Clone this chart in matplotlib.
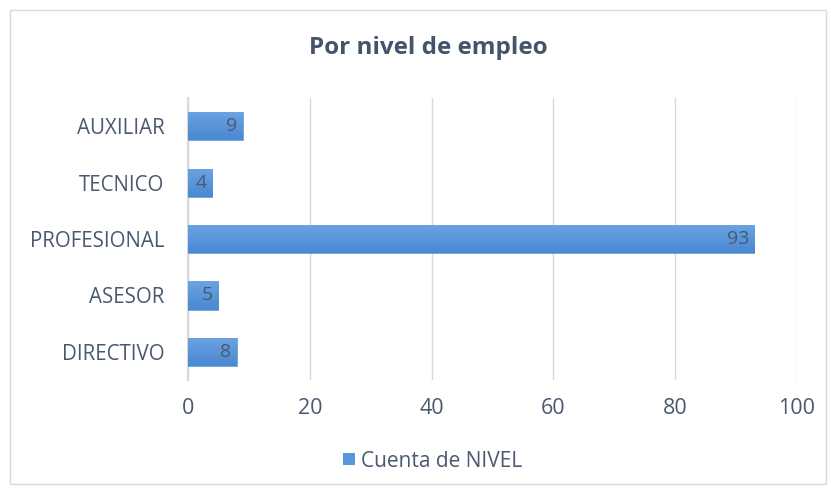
#!/usr/bin/env python3

import matplotlib.pyplot as plt
from matplotlib.colors import LinearSegmentedColormap
from matplotlib.patches import Rectangle, Patch
import numpy as np

# Datos
categorias = ["DIRECTIVO", "ASESOR", "PROFESIONAL", "TECNICO", "AUXILIAR"]
valores = [8, 5, 93, 4, 9]
ticks_x = [0, 20, 40, 60, 80, 100]

plt.rcParams["font.family"] = ["Open Sans", "DejaVu Sans"]

fig = plt.figure(figsize=(8.31, 4.92), dpi=100)
ax = fig.add_axes([0.2262, 0.2276, 0.7329, 0.5732])

# Borde exterior del gráfico
fig.patches.append(Rectangle((10 / 831, 8 / 492), 816 / 831, 474 / 492,
                             transform=fig.transFigure, fill=False,
                             edgecolor="#D9D9D9", linewidth=1))

texto = "#4A5870"
y = np.arange(len(categorias))
color_barra = "#5896DA"
barras = ax.barh(y, valores, height=0.5, color=color_barra, edgecolor="#5B9BD5",
                 linewidth=0.5, zorder=3)

# Degradado vertical en cada barra (estilo Excel)
degradado = LinearSegmentedColormap.from_list("g", ["#4A88D2", "#6CA3E2"])
grad = np.linspace(0, 1, 64).reshape(-1, 1)
for b in barras:
    x0, y0 = b.get_x(), b.get_y()
    im = ax.imshow(grad, cmap=degradado, aspect="auto", origin="lower",
                   extent=(x0, x0 + b.get_width(), y0, y0 + b.get_height()), zorder=3.5)
    im.set_clip_path(b)

for yi, v in zip(y, valores):
    ax.text(v - 0.9, yi, str(v), ha="right", va="center", fontsize=14, color=texto, zorder=4)

ax.set_xlim(0, 100)
ax.set_ylim(-0.5, len(categorias) - 0.5)
ax.set_xticks(ticks_x)
ax.set_yticks(y)
ax.set_yticklabels(categorias)
ax.tick_params(axis="both", length=0, labelcolor=texto)
ax.tick_params(axis="x", pad=13, labelsize=15.5)
ax.tick_params(axis="y", pad=17, labelsize=14.8)

ax.grid(axis="x", color="#D9D9D9", linewidth=1, zorder=0)
for s in ["top", "right", "bottom"]:
    ax.spines[s].set_visible(False)
ax.spines["left"].set_color("#D9D9D9")
ax.spines["left"].set_linewidth(1.5)

fig.text(0.515, 0.902, "Por nivel de empleo", ha="center", va="center",
         fontsize=17.5, fontweight="bold", color="#44546A")

fig.legend(handles=[Patch(facecolor=color_barra, label="Cuenta de NIVEL")],
           loc="center", bbox_to_anchor=(0.521, 0.063), frameon=False,
           fontsize=15, labelcolor=texto, handlelength=0.55, handleheight=0.55,
           handletextpad=0.3)

plt.savefig("out.png", dpi=100)
